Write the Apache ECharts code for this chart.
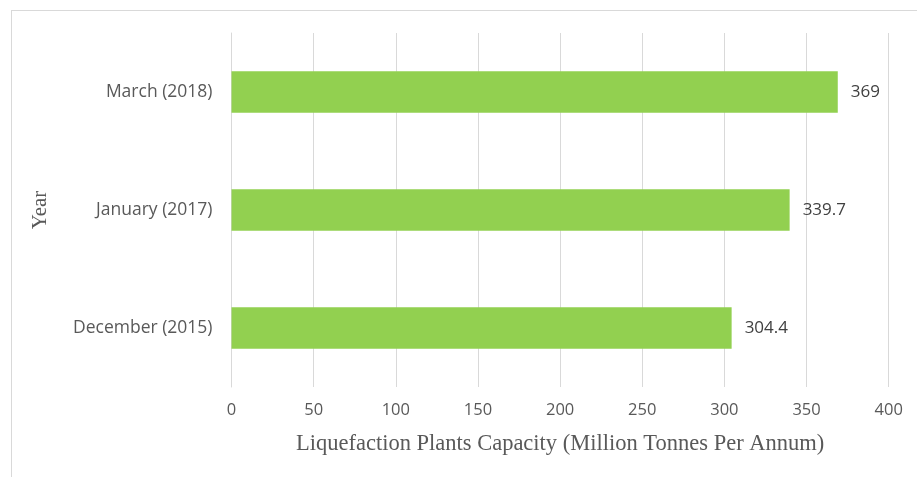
<!DOCTYPE html>
<html><head><meta charset="utf-8">
<script src="https://cdn.jsdelivr.net/npm/echarts@6/dist/echarts.min.js"></script>
<style>html,body{margin:0;padding:0;background:#fff}#c{width:917px;height:477px}</style>
</head><body><div id="c"></div>
<script>
const categories = ['December (2015)', 'January (2017)', 'March (2018)'];
const capacity = [304.4, 339.7, 369];
const xTicks = [0, 50, 100, 150, 200, 250, 300, 350, 400];
const xTitle = 'Liquefaction Plants Capacity (Million Tonnes Per Annum)';
const yTitle = 'Year';

const chart = echarts.init(document.getElementById('c'), null, {renderer: 'canvas'});
const sans = 'Open Sans';
const serif = 'Liberation Serif';
chart.setOption({
  animation: false,
  backgroundColor: '#fff',
  grid: {left: 231.5, right: 28.3, top: 33, bottom: 90, containLabel: false},
  graphic: [
    {type: 'line', shape: {x1: 11, y1: 10.5, x2: 917, y2: 10.5}, style: {stroke: '#d9d9d9', lineWidth: 1}},
    {type: 'line', shape: {x1: 11.5, y1: 10, x2: 11.5, y2: 477}, style: {stroke: '#d9d9d9', lineWidth: 1}}
  ],
  xAxis: {
    type: 'value',
    min: xTicks[0], max: xTicks[xTicks.length - 1], interval: xTicks[1] - xTicks[0],
    name: xTitle, nameLocation: 'middle', nameGap: 46,
    nameTextStyle: {fontFamily: serif, fontSize: 22.5, color: '#595959'},
    axisLine: {show: false}, axisTick: {show: false},
    axisLabel: {color: '#595959', fontFamily: sans, fontSize: 16.5, margin: 15},
    splitLine: {show: true, lineStyle: {color: '#d9d9d9', width: 1}}
  },
  yAxis: {
    type: 'category', data: categories,
    name: yTitle, nameLocation: 'middle', nameGap: 181, nameRotate: 90,
    nameTextStyle: {fontFamily: serif, fontSize: 21, color: '#595959'},
    axisLine: {show: true, lineStyle: {color: '#d9d9d9'}}, axisTick: {show: false},
    axisLabel: {color: '#595959', fontFamily: sans, fontSize: 17.5, margin: 19},
    splitLine: {show: false}
  },
  series: [{
    type: 'bar', data: capacity, barCategoryGap: '65%',
    itemStyle: {color: '#92d050'},
    label: {show: true, position: 'right', distance: 13, color: '#404040', fontFamily: sans, fontSize: 17}
  }]
});
</script></body></html>
